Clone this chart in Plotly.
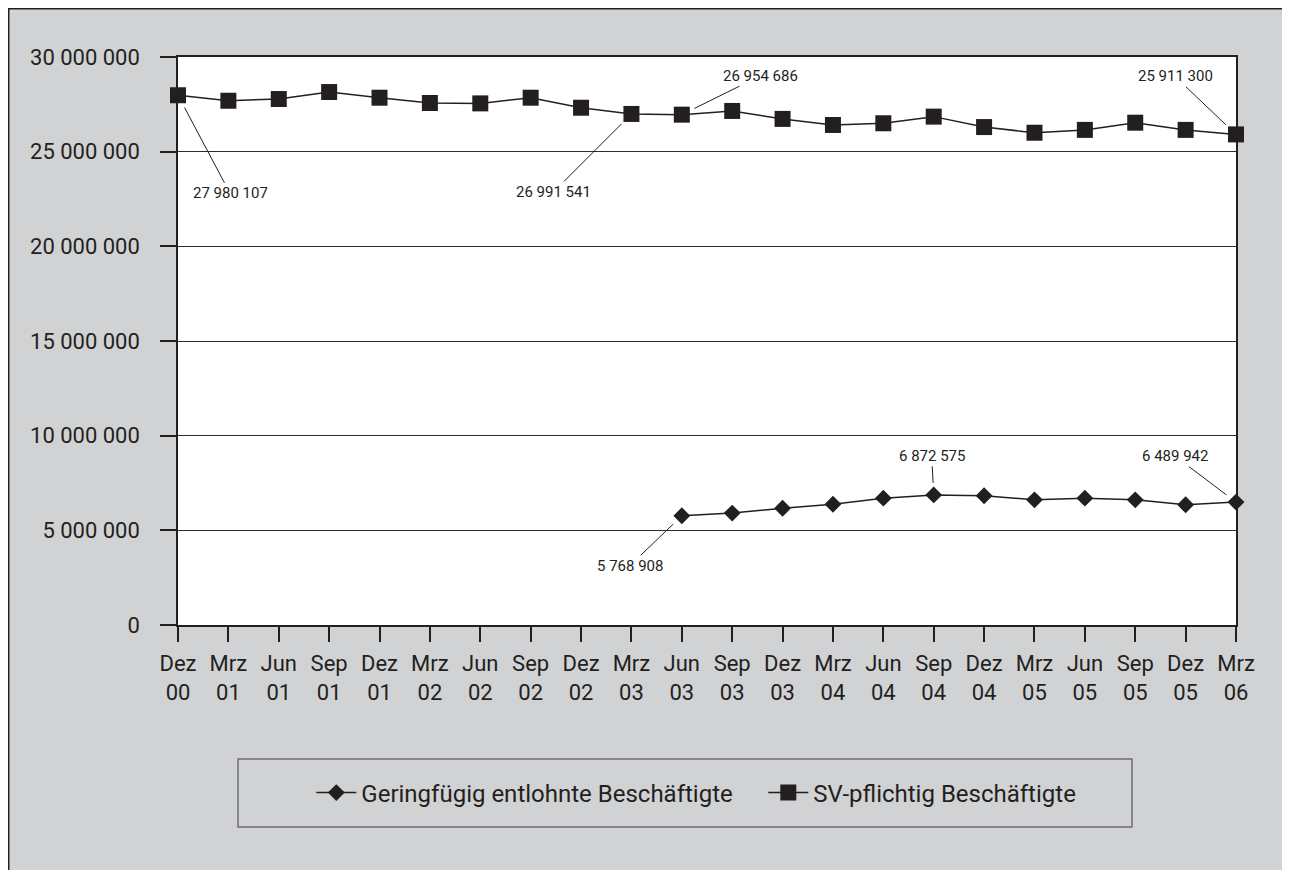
import plotly.graph_objects as go

months = ["Dez", "Mrz", "Jun", "Sep", "Dez", "Mrz", "Jun", "Sep", "Dez", "Mrz", "Jun",
          "Sep", "Dez", "Mrz", "Jun", "Sep", "Dez", "Mrz", "Jun", "Sep", "Dez", "Mrz"]
years = ["00", "01", "01", "01", "01", "02", "02", "02", "02", "03", "03",
         "03", "03", "04", "04", "04", "04", "05", "05", "05", "05", "06"]

sv_pflichtig = [27980107, 27690000, 27780000, 28150000, 27850000, 27570000, 27550000,
                27850000, 27320000, 26991541, 26954686, 27150000, 26730000, 26410000,
                26500000, 26850000, 26300000, 26000000, 26150000, 26530000, 26150000,
                25911300]
geringfuegig = [None, None, None, None, None, None, None, None, None, None, 5768908,
                5910000, 6170000, 6380000, 6700000, 6872575, 6830000, 6610000, 6700000,
                6610000, 6350000, 6489942]

# labelled points: (index, text offset x, text offset y)
labels_sv = [(0, 52, 98), (9, -78, 78), (10, 79, -39), (21, -61, -58)]
labels_gf = [(10, -52, 50), (15, -2, -39), (21, -61, -46)]

series_names = ["Geringfügig entlohnte Beschäftigte", "SV-pflichtig Beschäftigte"]

DARK = "#231f20"
GRAY = "#d1d2d4"
FONT = "Roboto"

x = list(range(len(months)))
ticktext = [f"{m}<br>{y}" for m, y in zip(months, years)]

fig = go.Figure()
fig.add_trace(go.Scatter(
    x=x, y=geringfuegig, mode="lines+markers", name=series_names[0],
    line=dict(color=DARK, width=1.5),
    marker=dict(symbol="diamond", size=13, color=DARK),
    cliponaxis=False,
))
fig.add_trace(go.Scatter(
    x=x, y=sv_pflichtig, mode="lines+markers", name=series_names[1],
    line=dict(color=DARK, width=1.5),
    marker=dict(symbol="square", size=16, color=DARK),
    cliponaxis=False,
))

def fmt(v):
    return f"{v:,}".replace(",", " ")

annotations = []
for idx, ax, ay in labels_sv:
    annotations.append(dict(x=idx, y=sv_pflichtig[idx], text=fmt(sv_pflichtig[idx]),
                            showarrow=True, arrowhead=0, arrowwidth=1, arrowcolor=DARK,
                            ax=ax, ay=ay, standoff=14,
                            font=dict(family=FONT, size=15, color=DARK)))
for idx, ax, ay in labels_gf:
    annotations.append(dict(x=idx, y=geringfuegig[idx], text=fmt(geringfuegig[idx]),
                            showarrow=True, arrowhead=0, arrowwidth=1, arrowcolor=DARK,
                            ax=ax, ay=ay, standoff=12,
                            font=dict(family=FONT, size=15, color=DARK)))

shapes = [
    # outer border of the gray panel
    dict(type="rect", xref="paper", yref="paper", x0=-0.1600, x1=1.2, y0=-0.6, y1=1.0850,
         fillcolor="rgba(0,0,0,0)", line=dict(color=DARK, width=1.5), layer="below"),
    # white plot area
    dict(type="rect", xref="paper", yref="paper", x0=0, x1=1, y0=0, y1=1,
         fillcolor="white", line=dict(width=0), layer="below"),
    # legend box
    dict(type="rect", xref="paper", yref="paper", x0=0.0567, x1=0.9017, y0=-0.3556, y1=-0.2359,
         fillcolor="rgba(0,0,0,0)", line=dict(color="#6d6e70", width=1.5), layer="above"),
]

fig.update_layout(
    width=1290, height=870,
    margin=dict(l=170, r=62, t=49, b=253),
    paper_bgcolor=GRAY,
    plot_bgcolor="white",
    separators=", ",
    font=dict(family=FONT, size=22, color=DARK),
    showlegend=True,
    legend=dict(orientation="h", x=0.126, xanchor="left", y=-0.2958, yanchor="middle",
                bgcolor="rgba(0,0,0,0)", borderwidth=0,
                font=dict(family=FONT, size=24, color=DARK), itemwidth=40,
                entrywidth=397, traceorder="normal"),
    annotations=annotations,
    shapes=shapes,
)

fig.update_xaxes(
    range=[0, 21], tickvals=x, ticktext=ticktext,
    showgrid=False, zeroline=False,
    showline=True, linecolor=DARK, linewidth=1.5, mirror=True,
    ticks="outside", ticklen=15, tickcolor=DARK, tickwidth=1.5,
    ticklabelstandoff=3,
    tickfont=dict(family=FONT, size=22, color=DARK),
)
fig.update_yaxes(
    range=[0, 30000000], dtick=5000000, tickformat=",d",
    showgrid=True, gridcolor="#2e2a2b", gridwidth=1.3, zeroline=False,
    showline=True, linecolor=DARK, linewidth=1.5, mirror=True,
    ticks="outside", ticklen=16, tickcolor=DARK, tickwidth=1.5,
    ticklabelstandoff=16,
    tickfont=dict(family=FONT, size=22, color=DARK),
)

fig.write_html("out.html")
